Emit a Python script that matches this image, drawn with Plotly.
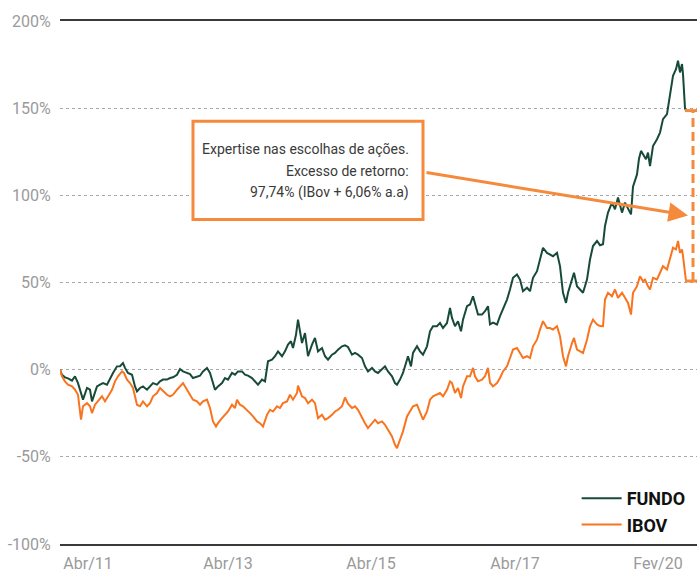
import plotly.graph_objects as go

# Time index (trading-period position along the x axis)
t_fundo = [0, 2, 5, 8, 12, 15, 18, 22, 23, 27, 30, 32, 37, 40, 43, 47, 50, 53, 57, 60,
           63, 65, 68, 72, 75, 77, 80, 83, 87, 90, 93, 97, 100, 103, 107, 110, 113, 117, 120, 123,
           127, 130, 133, 137, 140, 143, 147, 150, 153, 155, 158, 162, 165, 168, 172, 175, 178, 182, 185, 188,
           192, 195, 198, 202, 205, 208, 212, 215, 218, 222, 225, 228, 231, 233, 236, 238, 240, 242, 245, 248,
           252, 255, 258, 262, 265, 268, 272, 275, 278, 282, 285, 288, 292, 295, 298, 302, 305, 308, 312, 315,
           318, 322, 325, 328, 332, 335, 337, 340, 343, 346, 348, 351, 353, 357, 360, 363, 367, 370, 373, 377,
           380, 383, 387, 390, 392, 395, 398, 401, 403, 407, 410, 413, 415, 418, 422, 425, 428, 430, 433, 437,
           440, 443, 447, 450, 453, 457, 460, 463, 467, 470, 473, 477, 480, 483, 487, 490, 493, 497, 500, 503,
           506, 508, 512, 514, 517, 520, 523, 527, 530, 533, 537, 540, 543, 545, 548, 552, 555, 558, 562, 565,
           568, 571, 573, 577, 579, 581, 583, 586, 588, 590, 593, 597, 600, 603, 607, 610, 613, 616, 618, 620,
           622, 623, 625, 626]
fundo = [0, -3, -4.4, -5, -6.3, -3.8, -7.7, -14.4, -17.2, -10.5, -11.5, -18.2, -9.6, -8.6, -7.7, -8.6, -4.8, -1.9, 1.9, 2,
         3.8, 1, -1.9, -2.9, -9.6, -12.4, -10.5, -9.6, -11.5, -9.6, -7.7, -8.6, -6.7, -5.7, -5.7, -4.8, -4.4, -2.9, 0.4, -1,
         -1.9, -2.5, -4.8, -3.8, -3.5, -1, 1, -1.9, -7.7, -11.5, -9.6, -7.7, -4.8, -5.7, -1.9, -2.9, -1, -1, -2.9, -3.4,
         -4.8, -6.7, -8.6, -5.7, -6.7, 4.8, 5.7, 7.7, 10.5, 7.7, 10.5, 14.4, 16.3, 12.4, 20, 28.7, 21, 15.3, 21, 7.7,
         14.4, 18.2, 10.5, 12.4, 7.7, 5.7, 8.6, 9.6, 11.5, 13.4, 14, 13, 8.6, 9.6, 8.6, 6.7, 1.9, -1, 1, -1,
         -1.9, 0, 1.9, -1, -3.8, -7.7, -8.6, -5.7, -1.9, 3.8, 7.7, 1.9, 9.6, 13.4, 10.5, 8.6, 13.4, 22, 24.9, 24.9,
         26.8, 23.9, 26.8, 35.4, 29.7, 24.9, 27.8, 22, 28.7, 36.4, 37.4, 42.1, 38.3, 31.6, 31.6, 33.5, 36.4, 26, 27, 25.9,
         30.7, 34.5, 40.2, 46, 52.7, 54.6, 51.7, 45, 47, 45, 52.7, 56.5, 63.2, 69.9, 67, 66.1, 65.1, 67, 59.4, 44.1,
         38.3, 44.1, 52.7, 55.6, 47.9, 46, 44.1, 51.7, 63.2, 70.9, 73.8, 71.4, 72, 82.4, 90.1, 95.8, 92, 98.7, 90.1, 95.8,
         92, 89.1, 105, 112, 121, 125.5, 123.6, 120.7, 124.5, 116.8, 128.3, 132.2, 136, 143.7, 146.6, 157.1, 168.6, 172.4, 177.2, 170.5,
         175.3, 169.5, 150, 148.6]

t_ibov = [0, 2, 5, 8, 12, 15, 18, 21, 23, 27, 30, 32, 35, 38, 42, 45, 48, 52, 55, 58,
          62, 64, 67, 70, 73, 77, 80, 83, 87, 90, 93, 97, 100, 103, 107, 110, 113, 117, 120, 123,
          127, 130, 133, 137, 140, 143, 147, 150, 153, 156, 158, 162, 165, 168, 172, 175, 177, 180, 183, 187,
          190, 193, 197, 200, 203, 207, 210, 213, 217, 220, 223, 227, 230, 233, 237, 238, 242, 245, 248, 252,
          255, 258, 262, 265, 268, 272, 275, 278, 282, 285, 288, 292, 295, 298, 302, 305, 308, 312, 315, 318,
          322, 325, 328, 332, 335, 337, 340, 343, 347, 350, 353, 357, 360, 363, 367, 370, 373, 377, 380, 383,
          387, 390, 392, 395, 398, 401, 403, 407, 410, 413, 415, 418, 422, 425, 428, 430, 433, 437, 440, 443,
          447, 450, 453, 457, 460, 463, 467, 470, 473, 477, 480, 483, 487, 490, 493, 497, 500, 503, 506, 508,
          512, 514, 517, 520, 523, 527, 530, 533, 537, 540, 543, 545, 548, 552, 555, 558, 562, 565, 568, 571,
          573, 577, 580, 583, 585, 588, 590, 593, 597, 600, 603, 607, 610, 613, 616, 618, 620, 622, 623, 625,
          626]
ibov = [0, -3.8, -6.7, -8.6, -9.6, -11.5, -14.4, -28.7, -21, -19.2, -21, -24.9, -20.1, -18.2, -15.3, -18.2, -15.3, -11.5, -6.7, -3.8,
        -1, -1.9, -5.7, -7.7, -10.5, -20.1, -21, -18.2, -21, -19.2, -15.3, -13.4, -10.5, -12.4, -14.4, -15.3, -14.4, -11.5, -9.6, -7.7,
        -11.5, -14.4, -17.2, -18.2, -20.1, -18.2, -17.2, -22, -29.7, -32.6, -30.7, -27.8, -25.9, -24, -20.1, -22, -17.2, -20.1, -21, -23,
        -24.9, -26.8, -29.7, -30.7, -32.6, -25.9, -23, -24, -21, -22, -19.2, -18.2, -14.4, -17.2, -13.4, -9.2, -15.3, -16.3, -19.2, -17.2,
        -19.2, -27.8, -25.9, -28.7, -27.8, -25.9, -24, -23, -21, -16, -19.5, -22, -21, -23, -27.8, -30.7, -33.5, -30.7, -28.7, -30.7,
        -29.7, -31.6, -34.5, -38.3, -43.1, -45, -40.2, -35.4, -26.8, -24, -21, -20.1, -24.9, -28.7, -24, -17.2, -15.3, -14.4, -13.4, -15.3,
        -11.5, -6.7, -7.7, -13.4, -10.5, -16.3, -9.6, -3.8, -3.8, 1, -3.8, -6.7, -5.7, -3.8, 1, -7.5, -9.6, -7.7, -4.8, -1,
        1.9, 6.7, 11.5, 12.4, 9.6, 6.7, 7.7, 6.7, 13.4, 17.2, 23, 27.8, 23.9, 23.9, 23, 24.9, 19.2, 7.7, 1.9, 7.7,
        15.3, 18.2, 11.5, 10.5, 9.6, 17.2, 24.9, 28.7, 25.9, 25, 24.9, 40.2, 44.1, 42.1, 46, 41.2, 44.1, 41.2, 38.3, 31.6,
        44.1, 47.9, 53.6, 50.7, 51.7, 47.9, 46, 52.7, 51.7, 55.6, 59.4, 57.5, 63.2, 69.9, 69, 73.8, 67, 69, 65.1, 52.7,
        50.86]

tick_pos = [28, 168, 311, 455, 598]
tick_labels = ["Abr/11", "Abr/13", "Abr/15", "Abr/17", "Fev/20"]
y_ticks = [-100, -50, 0, 50, 100, 150, 200]
y_labels = ["-100%", "-50%", "0%", "50%", "100%", "150%", "200%"]

note_lines = ["Expertise nas escolhas de ações.",
              "Excesso de retorno:",
              "97,74% (IBov + 6,06% a.a)"]
note_y = [126.4, 113.9, 101.5]

GREEN = "#174B38"
ORANGE = "#F9741F"
ACCENT = "#F58A3C"
FONT = "Roboto, Open Sans, sans-serif"

fig = go.Figure()
fig.add_trace(go.Scatter(x=t_fundo, y=fundo, mode="lines", name="FUNDO",
                         line=dict(color=GREEN, width=2)))
fig.add_trace(go.Scatter(x=t_ibov, y=ibov, mode="lines", name="IBOV",
                         line=dict(color=ORANGE, width=2)))

# Note box with its text
fig.add_shape(type="rect", x0=133, x1=363, y0=86.2, y1=142.5,
              line=dict(color=ACCENT, width=3), fillcolor="white", layer="above")
for line_text, ly in zip(note_lines, note_y):
    fig.add_annotation(x=351, y=ly, xref="x", yref="y", xanchor="right", yanchor="middle",
                       align="right", showarrow=False, text=line_text,
                       font=dict(family=FONT, size=14, color="#3a3a3a"))

# Arrow from the box toward the gap between both series
fig.add_annotation(x=628, y=88.5, ax=365, ay=113.2, xref="x", yref="y",
                   axref="x", ayref="y", text="", showarrow=True,
                   arrowhead=2, arrowsize=1.3, arrowwidth=3, arrowcolor=ACCENT, standoff=0)

# Bracket marking the final excess return
end_f = fundo[-1]
end_i = ibov[-1]
fig.add_shape(type="line", x0=633, x1=633, y0=end_i, y1=end_f,
              line=dict(color=ACCENT, width=3, dash="9px,5px"))
fig.add_shape(type="line", x0=625, x1=637, y0=end_f, y1=end_f,
              line=dict(color=ACCENT, width=3))
fig.add_shape(type="line", x0=625, x1=637, y0=end_i, y1=end_i,
              line=dict(color=ACCENT, width=3))

fig.update_layout(
    width=697, height=576,
    margin=dict(l=60, r=0, t=21, b=32),
    paper_bgcolor="white", plot_bgcolor="white",
    font=dict(family=FONT, color="#9a9a9a"),
    showlegend=True,
    legend=dict(x=0.99, xanchor="right", y=0.002, yanchor="bottom",
                bgcolor="rgba(0,0,0,0)", itemwidth=40,
                font=dict(family=FONT, size=18, color="#111111", weight="bold")),
    xaxis=dict(range=[0, 637], tickvals=tick_pos, ticktext=tick_labels,
               showgrid=False, zeroline=False, automargin=False,
               showline=True, mirror=True, linecolor="#3a3a3a", linewidth=2,
               ticks="outside", ticklen=4, tickcolor="rgba(0,0,0,0)",
               tickfont=dict(family=FONT, size=16, color="#9a9a9a")),
    yaxis=dict(range=[-100, 200], tickvals=y_ticks, ticktext=y_labels,
               showgrid=True, gridcolor="#a8a8a8", griddash="dot", gridwidth=1,
               zeroline=False, automargin=False, showline=False,
               ticks="outside", ticklen=5, tickcolor="rgba(0,0,0,0)",
               tickfont=dict(family=FONT, size=16, color="#9a9a9a")),
)

fig.write_html("out.html")
